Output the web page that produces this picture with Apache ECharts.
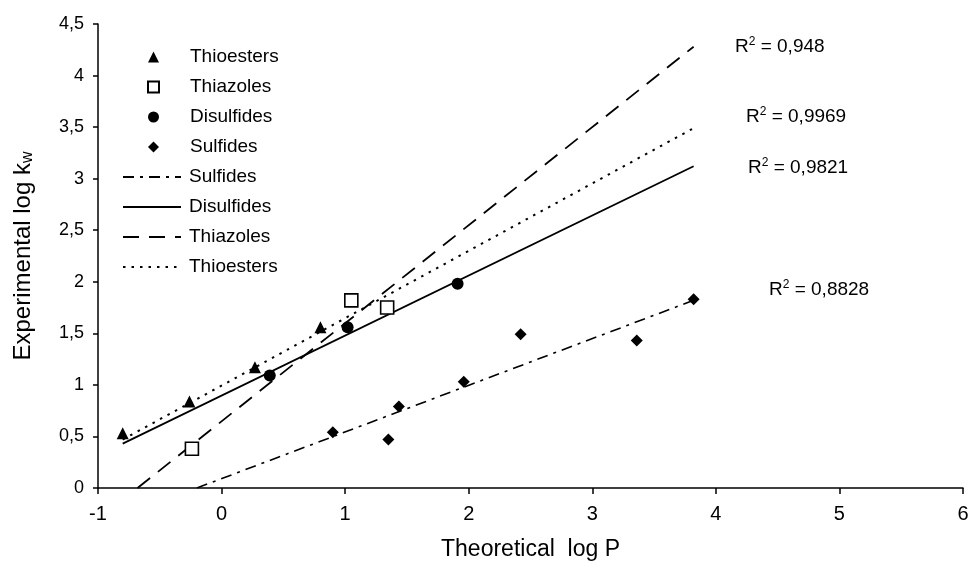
<!DOCTYPE html>
<html><head><meta charset="utf-8">
<script src="https://cdn.jsdelivr.net/npm/echarts@6/dist/echarts.min.js"></script>
<style>html,body{margin:0;padding:0;background:#fff}#c{width:969px;height:561px}</style>
</head><body><div id="c"></div>
<script>
// Scatter data (Theoretical log P, Experimental log kw)
var thioX = [-0.80, -0.26, 0.27, 0.80];
var thioY = [0.53, 0.84, 1.17, 1.56];
var thiazX = [-0.24, 1.05, 1.34];
var thiazY = [0.38, 1.82, 1.75];
var disulfX = [0.39, 1.02, 1.91];
var disulfY = [1.09, 1.56, 1.98];
var sulfX = [0.90, 1.35, 1.435, 1.96, 2.42, 3.36, 3.82];
var sulfY = [0.54, 0.47, 0.79, 1.03, 1.49, 1.43, 1.83];
// Trend line end points
var sulfLineX = [-0.20, 3.82];   var sulfLineY = [0.00, 1.82];
var disulfLineX = [-0.80, 3.82]; var disulfLineY = [0.43, 3.12];
var thiazLineX = [-0.68, 3.82];  var thiazLineY = [0.00, 4.28];
var thioLineX = [-0.80, 3.82];   var thioLineY = [0.47, 3.49];
// Axis ticks
var xTicks = [-1, 0, 1, 2, 3, 4, 5, 6];
var yTicks = [0, 0.5, 1, 1.5, 2, 2.5, 3, 3.5, 4, 4.5];
// R² annotations
var r2Labels = ['0,948', '0,9969', '0,9821', '0,8828'];

function zip(a, b) { return a.map(function (v, i) { return [v, b[i]]; }); }
var FONT = "'Liberation Sans', Arial, sans-serif";

var chart = echarts.init(document.getElementById('c'), null, {renderer: 'canvas'});
var lineBase = {type: 'line', showSymbol: false, symbol: 'none', silent: true, z: 2, itemStyle: {color: '#000'}};
var option = {
  backgroundColor: '#fff',
  animation: false,
  textStyle: {fontFamily: FONT, color: '#000'},
  grid: {left: 98, right: 6, top: 24, bottom: 73, containLabel: false, outerBoundsMode: 'none'},
  xAxis: {
    type: 'value', min: xTicks[0], max: xTicks[xTicks.length - 1], interval: 1,
    name: 'Theoretical  log P', nameLocation: 'middle', nameGap: 50,
    nameTextStyle: {fontSize: 23, color: '#000', fontFamily: FONT},
    axisLine: {show: true, onZero: false, lineStyle: {color: '#000', width: 1.5}},
    axisTick: {show: true, length: 6, lineStyle: {color: '#000', width: 1.5}},
    axisLabel: {fontSize: 20, color: '#000', margin: 16, fontFamily: FONT, showMinLabel: true, showMaxLabel: true},
    splitLine: {show: false}
  },
  yAxis: {
    type: 'value', min: yTicks[0], max: yTicks[yTicks.length - 1], interval: 0.5,
    name: 'Experimental log k{sub|w}', nameLocation: 'middle', nameGap: 62,
    nameTextStyle: {fontSize: 24, color: '#000', fontFamily: FONT,
      rich: {sub: {fontSize: 16, fontFamily: FONT, color: '#000', padding: [10, 0, 0, 0]}}},
    axisLine: {show: true, onZero: false, lineStyle: {color: '#000', width: 1.5}},
    axisTick: {show: true, length: 5, lineStyle: {color: '#000', width: 1.5}},
    axisLabel: {fontSize: 18, color: '#000', margin: 14, fontFamily: FONT, showMinLabel: true, showMaxLabel: true,
      formatter: function (v) { return String(v).replace('.', ','); }},
    splitLine: {show: false}
  },
  legend: [{
    orient: 'vertical', left: 147, top: 47, padding: 0,
    itemWidth: 11, itemHeight: 11, itemGap: 10,
    itemStyle: {opacity: 1},
    textStyle: {fontSize: 19, color: '#000', fontFamily: FONT, lineHeight: 20, padding: [0, 0, 0, 26]},
    data: ['Thioesters', 'Thiazoles', 'Disulfides', 'Sulfides']
  }, {
    orient: 'vertical', left: 122, top: 167, padding: 0,
    itemWidth: 58, itemHeight: 10, itemGap: 10,
    itemStyle: {opacity: 0},
    textStyle: {fontSize: 19, color: '#000', fontFamily: FONT, lineHeight: 20, padding: [0, 0, 0, 3]},
    formatter: function (n) { return n.trim(); },
    data: ['Sulfides ', 'Disulfides ', 'Thiazoles ', 'Thioesters ']
  }],
  series: [
    Object.assign({}, lineBase, {name: 'Sulfides ', data: zip(sulfLineX, sulfLineY),
      lineStyle: {color: '#000', width: 1.6, type: [11, 6, 3, 6]}}),
    Object.assign({}, lineBase, {name: 'Disulfides ', data: zip(disulfLineX, disulfLineY),
      lineStyle: {color: '#000', width: 1.8, type: 'solid'}}),
    Object.assign({}, lineBase, {name: 'Thiazoles ', data: zip(thiazLineX, thiazLineY),
      lineStyle: {color: '#000', width: 1.8, type: [16, 10]}}),
    Object.assign({}, lineBase, {name: 'Thioesters ', data: zip(thioLineX, thioLineY),
      lineStyle: {color: '#000', width: 2, type: [2.5, 6]}}),
    {type: 'scatter', name: 'Thioesters', data: zip(thioX, thioY), symbol: 'triangle', symbolSize: 12, z: 5,
      itemStyle: {color: '#000', opacity: 1}},
    {type: 'scatter', name: 'Thiazoles', data: zip(thiazX, thiazY), symbol: 'rect', symbolSize: 13, z: 5,
      itemStyle: {color: '#fff', borderColor: '#000', borderWidth: 1.6, opacity: 1}},
    {type: 'scatter', name: 'Disulfides', data: zip(disulfX, disulfY), symbol: 'circle', symbolSize: 12, z: 5,
      itemStyle: {color: '#000', opacity: 1}},
    {type: 'scatter', name: 'Sulfides', data: zip(sulfX, sulfY), symbol: 'diamond', symbolSize: 12, z: 5,
      itemStyle: {color: '#000', opacity: 1}}
  ],
  graphic: [
    [735, 47], [746, 117], [748, 168], [769, 290]
  ].map(function (p, i) {
    return {type: 'text', left: p[0], top: p[1] - 11, z: 10, silent: true,
      style: {text: 'R{sup|2} = ' + r2Labels[i], font: '19px ' + FONT, fill: '#000',
        rich: {sup: {fontSize: 12, fontFamily: FONT, fill: '#000', padding: [0, 0, 10, 0]}}}};
  })
};
chart.setOption(option);
</script>
</body></html>
